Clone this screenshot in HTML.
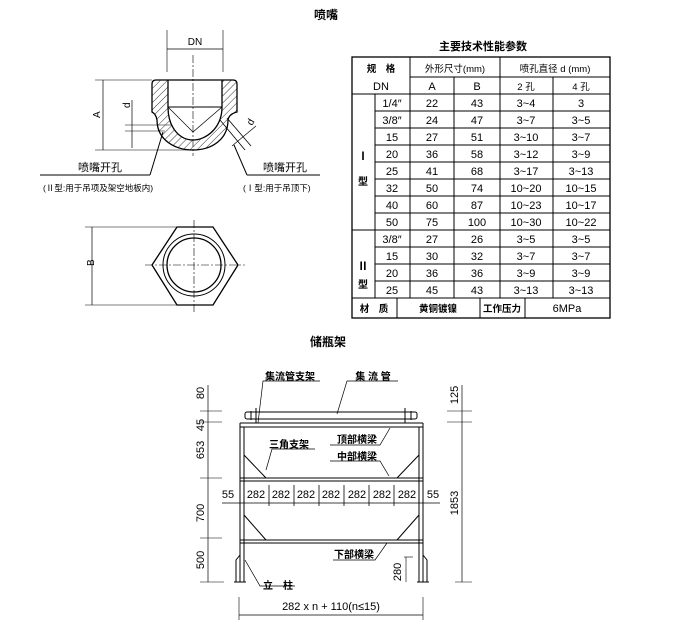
<!DOCTYPE html>
<html><head><meta charset="utf-8"><style>
html,body{margin:0;padding:0;background:#fff;}
svg{display:block;font-family:"Liberation Sans","Noto Sans CJK SC",sans-serif;}
</style></head><body>
<svg width="686" height="635" viewBox="0 0 686 635" xmlns="http://www.w3.org/2000/svg">
<defs>
<pattern id="h" width="5" height="5" patternUnits="userSpaceOnUse" patternTransform="rotate(45)">
<line x1="0" y1="0" x2="0" y2="5" stroke="#000" stroke-width="0.8"/></pattern>
</defs>
<g fill="#000" font-weight="bold" font-size="12">
<text x="326" y="19" text-anchor="middle">喷嘴</text>
<text x="328" y="346" text-anchor="middle">储瓶架</text>
<text x="483" y="50" text-anchor="middle" font-size="11">主要技术性能参数</text>
</g>

<g stroke="#000" fill="none" stroke-width="1">
<path d="M152,84 Q152,80 156,80 L233,80 Q237,80 237,84 L237,112 Q229,114 228,120 C228,140 211,150 193,150 C175,150 157,140 157,120 Q156,114 152,112 Z M168,80 L168,107 C168,128 180,140 193,140 C206,140 222,128 222,107 L222,80 Z" fill="url(#h)" fill-rule="evenodd" stroke-width="1.3"/>
<line x1="168" y1="107" x2="222" y2="107"/>
<polyline points="168,107 193,132 222,107" stroke-width="0.7"/>
<line x1="193" y1="55" x2="193" y2="156" stroke-dasharray="8,2,2,2" stroke-width="0.6"/>
<line x1="167" y1="30" x2="167" y2="72" stroke-width="0.6"/>
<line x1="223" y1="30" x2="223" y2="72" stroke-width="0.6"/>
<line x1="167" y1="49" x2="223" y2="49" stroke-width="0.7"/>
<line x1="95" y1="80" x2="152" y2="80" stroke-width="0.6"/>
<line x1="95" y1="150" x2="193" y2="150" stroke-width="0.6"/>
<line x1="103" y1="80" x2="103" y2="150" stroke-width="0.7"/>
<line x1="132" y1="100" x2="132" y2="148" stroke-width="0.7"/>
<line x1="125" y1="125" x2="172" y2="125" stroke-width="0.6"/>
<line x1="125" y1="131" x2="165" y2="131" stroke-width="0.6"/>
<line x1="220" y1="120" x2="245" y2="150" stroke-width="0.8"/>
<line x1="227" y1="118" x2="251" y2="146" stroke-width="0.8"/>
<line x1="232" y1="146" x2="256" y2="126" stroke-width="0.7"/>
<line x1="163" y1="132" x2="150" y2="175"/>
<line x1="40" y1="175" x2="150" y2="175"/>
<line x1="234" y1="145" x2="247" y2="175"/>
<line x1="247" y1="175" x2="320" y2="175"/>
</g>
<g font-size="10" fill="#000">
<text x="195" y="45" text-anchor="middle" font-size="10">DN</text>
<text x="100" y="118" transform="rotate(-90 100 118)" font-size="10">A</text>
<text x="130" y="108" transform="rotate(-90 130 108)" font-size="10">d</text>
<text x="252" y="126" transform="rotate(-60 252 126)" font-size="10">d</text>
<text x="100" y="171" text-anchor="middle" font-size="11">喷嘴开孔</text>
<text x="43" y="191" font-size="8.5">(Ⅱ型:用于吊项及架空地板内)</text>
<text x="285" y="171" text-anchor="middle" font-size="11">喷嘴开孔</text>
<text x="243" y="191" font-size="8.5">(Ⅰ型:用于吊顶下)</text>
</g>

<g stroke="#000" fill="none">
<polygon points="177,227 213,227 238,265 213,305 177,305 152,265" stroke-width="1.3"/>
<circle cx="194" cy="265" r="31" stroke-width="1"/>
<circle cx="194" cy="265" r="27" stroke-width="1.3"/>
<line x1="194" y1="220" x2="194" y2="312" stroke-dasharray="8,2,2,2" stroke-width="0.6"/>
<line x1="145" y1="265" x2="245" y2="265" stroke-dasharray="8,2,2,2" stroke-width="0.6"/>
<line x1="85" y1="227" x2="177" y2="227" stroke-width="0.6"/>
<line x1="85" y1="305" x2="177" y2="305" stroke-width="0.6"/>
<line x1="92" y1="227" x2="92" y2="305" stroke-width="0.7"/>
</g>
<text x="90" y="270" transform="rotate(-90 90 266)" font-size="10">B</text>

<g stroke="#000" fill="none" stroke-width="1">
<rect x="352" y="57" width="258" height="261" stroke-width="1.3"/>
<line x1="410" y1="57" x2="410" y2="298"/>
<line x1="454" y1="77" x2="454" y2="298"/>
<line x1="500" y1="57" x2="500" y2="298"/>
<line x1="553" y1="77" x2="553" y2="298"/>
<line x1="375" y1="94" x2="375" y2="298"/>
<line x1="410" y1="77" x2="610" y2="77"/>
<line x1="352" y1="94" x2="610" y2="94"/>
<line x1="375" y1="111" x2="610" y2="111"/>
<line x1="375" y1="128" x2="610" y2="128"/>
<line x1="375" y1="145" x2="610" y2="145"/>
<line x1="375" y1="162" x2="610" y2="162"/>
<line x1="375" y1="179" x2="610" y2="179"/>
<line x1="375" y1="196" x2="610" y2="196"/>
<line x1="375" y1="213" x2="610" y2="213"/>
<line x1="352" y1="230" x2="610" y2="230"/>
<line x1="375" y1="247" x2="610" y2="247"/>
<line x1="375" y1="264" x2="610" y2="264"/>
<line x1="375" y1="281" x2="610" y2="281"/>
<line x1="352" y1="298" x2="610" y2="298"/>
<line x1="397" y1="298" x2="397" y2="318"/>
<line x1="480" y1="298" x2="480" y2="318"/>
<line x1="525" y1="298" x2="525" y2="318"/>
</g>
<g font-size="11" fill="#000" text-anchor="middle">
<text x="381" y="72" font-size="9.5" font-weight="bold">规　格</text>
<text x="381" y="90">DN</text>
<text x="455" y="72" font-size="9.5">外形尺寸(mm)</text>
<text x="555" y="72" font-size="9.5">喷孔直径 d (mm)</text>
<text x="432" y="90">A</text><text x="477" y="90">B</text>
<text x="526" y="90" font-size="9.5">2 孔</text><text x="581" y="90" font-size="9.5">4 孔</text>
<text x="363" y="160" font-weight="bold">Ⅰ</text>
<text x="363" y="185" font-size="10" font-weight="bold">型</text>
<text x="363" y="270" font-weight="bold">Ⅱ</text>
<text x="363" y="288" font-size="10" font-weight="bold">型</text>
<g>
<text x="392" y="107">1/4″</text><text x="432" y="107">22</text><text x="477" y="107">43</text><text x="526" y="107">3~4</text><text x="581" y="107">3</text>
<text x="392" y="124">3/8″</text><text x="432" y="124">24</text><text x="477" y="124">47</text><text x="526" y="124">3~7</text><text x="581" y="124">3~5</text>
<text x="392" y="141">15</text><text x="432" y="141">27</text><text x="477" y="141">51</text><text x="526" y="141">3~10</text><text x="581" y="141">3~7</text>
<text x="392" y="158">20</text><text x="432" y="158">36</text><text x="477" y="158">58</text><text x="526" y="158">3~12</text><text x="581" y="158">3~9</text>
<text x="392" y="175">25</text><text x="432" y="175">41</text><text x="477" y="175">68</text><text x="526" y="175">3~17</text><text x="581" y="175">3~13</text>
<text x="392" y="192">32</text><text x="432" y="192">50</text><text x="477" y="192">74</text><text x="526" y="192">10~20</text><text x="581" y="192">10~15</text>
<text x="392" y="209">40</text><text x="432" y="209">60</text><text x="477" y="209">87</text><text x="526" y="209">10~23</text><text x="581" y="209">10~17</text>
<text x="392" y="226">50</text><text x="432" y="226">75</text><text x="477" y="226">100</text><text x="526" y="226">10~30</text><text x="581" y="226">10~22</text>
<text x="392" y="243">3/8″</text><text x="432" y="243">27</text><text x="477" y="243">26</text><text x="526" y="243">3~5</text><text x="581" y="243">3~5</text>
<text x="392" y="260">15</text><text x="432" y="260">30</text><text x="477" y="260">32</text><text x="526" y="260">3~7</text><text x="581" y="260">3~7</text>
<text x="392" y="277">20</text><text x="432" y="277">36</text><text x="477" y="277">36</text><text x="526" y="277">3~9</text><text x="581" y="277">3~9</text>
<text x="392" y="294">25</text><text x="432" y="294">45</text><text x="477" y="294">43</text><text x="526" y="294">3~13</text><text x="581" y="294">3~13</text>
</g>
<text x="374" y="312" font-size="9.5" font-weight="bold">材　质</text>
<text x="438" y="312" font-size="9.5" font-weight="bold">黄铜镀镍</text>
<text x="502" y="312" font-size="9.5" font-weight="bold">工作压力</text>
<text x="567" y="312">6MPa</text>
</g>

<g stroke="#000" fill="none" stroke-width="1">
<rect x="245" y="412" width="172" height="7" rx="2"/>
<line x1="251" y1="411" x2="251" y2="420"/><line x1="411" y1="411" x2="411" y2="420"/>
<line x1="256" y1="408" x2="256" y2="423"/><line x1="405" y1="408" x2="405" y2="423"/>
<line x1="240" y1="423" x2="423" y2="423"/><line x1="240" y1="427" x2="423" y2="427"/>
<line x1="240" y1="423" x2="240" y2="582"/><line x1="244" y1="427" x2="244" y2="582"/>
<line x1="419" y1="427" x2="419" y2="582"/><line x1="423" y1="423" x2="423" y2="582"/>
<line x1="240" y1="478" x2="423" y2="478"/><line x1="240" y1="481" x2="423" y2="481"/>
<line x1="240" y1="540" x2="423" y2="540"/><line x1="240" y1="543" x2="423" y2="543"/>
<line x1="244" y1="455" x2="266" y2="478"/><line x1="419" y1="455" x2="397" y2="478"/>
<line x1="244" y1="515" x2="266" y2="540"/><line x1="419" y1="515" x2="397" y2="540"/>
<path d="M236,582 L236,560 L240,555 M427,582 L427,560 L423,555" />
<line x1="234" y1="582" x2="246" y2="582"/><line x1="417" y1="582" x2="429" y2="582"/>
<line x1="222" y1="503" x2="440" y2="503" stroke-width="0.7"/>
<g stroke-width="0.8">
<line x1="244" y1="496" x2="244" y2="510"/><line x1="419" y1="496" x2="419" y2="510"/>
<line x1="269" y1="485" x2="269" y2="506"/><line x1="294" y1="485" x2="294" y2="506"/><line x1="319" y1="485" x2="319" y2="506"/>
<line x1="344" y1="485" x2="344" y2="506"/><line x1="369" y1="485" x2="369" y2="506"/><line x1="394" y1="485" x2="394" y2="506"/>
</g>
<line x1="208" y1="385" x2="208" y2="582" stroke-width="0.7"/>
<line x1="200" y1="411" x2="222" y2="411" stroke-width="0.6"/>
<line x1="200" y1="422" x2="222" y2="422" stroke-width="0.6"/>
<line x1="200" y1="478" x2="222" y2="478" stroke-width="0.6"/>
<line x1="200" y1="538" x2="222" y2="538" stroke-width="0.6"/>
<line x1="200" y1="582" x2="224" y2="582" stroke-width="0.6"/>
<line x1="462" y1="385" x2="462" y2="582" stroke-width="0.7"/>
<line x1="447" y1="411" x2="472" y2="411" stroke-width="0.6"/>
<line x1="447" y1="422" x2="472" y2="422" stroke-width="0.6"/>
<line x1="455" y1="582" x2="472" y2="582" stroke-width="0.6"/>
<line x1="404" y1="557" x2="413" y2="557" stroke-width="0.6"/>
<line x1="406" y1="557" x2="406" y2="582" stroke-width="0.6"/>
<line x1="239" y1="597" x2="239" y2="620" stroke-width="0.6"/>
<line x1="423" y1="597" x2="423" y2="620" stroke-width="0.6"/>
<line x1="239" y1="615" x2="423" y2="615" stroke-width="0.7"/>
<polyline points="258,423 263,381 320,381" stroke-width="0.7"/>
<polyline points="337,414 347,381 398,381" stroke-width="0.7"/>
<polyline points="390,428 380,445 330,445" stroke-width="0.7"/>
<polyline points="266,470 272,449 315,449" stroke-width="0.7"/>
<polyline points="389,476 380,461 330,461" stroke-width="0.7"/>
<polyline points="387,543 375,560 333,560" stroke-width="0.7"/>
<polyline points="245,560 260,586 295,586" stroke-width="0.7"/>
</g>
<g font-size="11" fill="#000">
<g font-weight="bold" font-size="10">
<text x="290" y="380" text-anchor="middle">集流管支架</text>
<text x="373" y="380" text-anchor="middle">集 流 管</text>
<text x="357" y="443" text-anchor="middle">顶部横梁</text>
<text x="289" y="448" text-anchor="middle">三角支架</text>
<text x="357" y="460" text-anchor="middle">中部横梁</text>
<text x="354" y="558" text-anchor="middle">下部横梁</text>
<text x="278" y="589" text-anchor="middle">立　柱</text>
</g>
<g text-anchor="middle">
<text x="256" y="498">282</text><text x="281" y="498">282</text><text x="306" y="498">282</text>
<text x="331" y="498">282</text><text x="357" y="498">282</text><text x="382" y="498">282</text><text x="407" y="498">282</text>
<text x="228" y="498">55</text><text x="433" y="498">55</text>
<text x="331" y="610">282 x n + 110(n≤15)</text>
</g>
<g text-anchor="middle">
<text transform="translate(204,393) rotate(-90)">80</text>
<text transform="translate(204,425) rotate(-90)">45</text>
<text transform="translate(204,450) rotate(-90)">653</text>
<text transform="translate(204,513) rotate(-90)">700</text>
<text transform="translate(204,560) rotate(-90)">500</text>
<text transform="translate(458,395) rotate(-90)">125</text>
<text transform="translate(458,503) rotate(-90)">1853</text>
<text transform="translate(401,572) rotate(-90)">280</text>
</g>
</g>
</svg>
</body></html>
